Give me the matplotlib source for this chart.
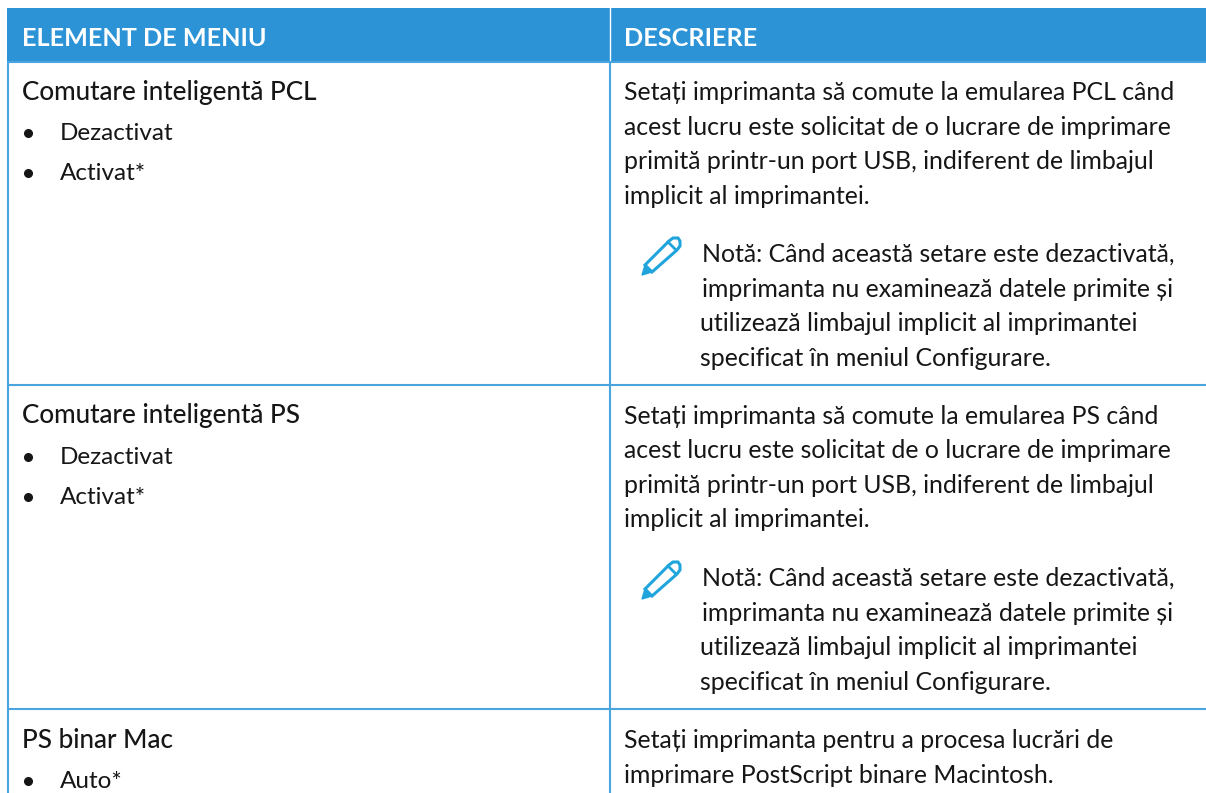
import matplotlib
matplotlib.use("Agg")
import matplotlib.pyplot as plt
from matplotlib.patches import Polygon, Rectangle

W, H = 1206, 793
FONT = ["Lato", "Noto Sans", "DejaVu Sans"]
HEADER_BLUE = "#2b93d6"
LINE_BLUE = "#4aa5de"
PEN_BLUE = "#1fa5dc"
INK = "#161616"

headers = ["ELEMENT DE MENIU", "DESCRIERE"]
row_titles = ["Comutare inteligentă PCL", "Comutare inteligentă PS", "PS binar Mac"]
row_options = [["Dezactivat", "Activat*"], ["Dezactivat", "Activat*"], ["Auto*"]]
row_desc = [
    ["Setați imprimanta să comute la emularea PCL când",
     "acest lucru este solicitat de o lucrare de imprimare",
     "primită printr-un port USB, indiferent de limbajul",
     "implicit al imprimantei."],
    ["Setați imprimanta să comute la emularea PS când",
     "acest lucru este solicitat de o lucrare de imprimare",
     "primită printr-un port USB, indiferent de limbajul",
     "implicit al imprimantei."],
    ["Setați imprimanta pentru a procesa lucrări de",
     "imprimare PostScript binare Macintosh."],
]
note_lines = ["Notă: Când această setare este dezactivată,",
              "imprimanta nu examinează datele primite și",
              "utilizează limbajul implicit al imprimantei",
              "specificat în meniul Configurare."]

fig = plt.figure(figsize=(W / 100, H / 100), dpi=100)
ax = fig.add_axes([0, 0, 1, 1])
ax.set_xlim(0, W)
ax.set_ylim(H, 0)
ax.axis("off")


def put(x, y, s, size=17.9, color=INK, weight="normal"):
    ax.text(x, y, s, fontsize=size, color=color, fontweight=weight,
            family=FONT, va="baseline", ha="left")


def draw_pen(x, y):
    # pencil icon, x/y is the lower left tip
    ax.add_patch(Polygon([(x, y), (x + 3, y - 10), (x + 10, y - 3)], fc=PEN_BLUE, ec=PEN_BLUE, lw=1))
    body = [(x + 3, y - 10), (x + 27, y - 34), (x + 31, y - 37), (x + 36, y - 37),
            (x + 38, y - 34), (x + 38, y - 29), (x + 35, y - 25), (x + 10, y - 3)]
    ax.add_patch(Polygon(body, fill=False, ec=PEN_BLUE, lw=2.2))
    ax.plot([x + 26, x + 34], [y - 33, y - 25], color=PEN_BLUE, lw=2)


# header band
ax.add_patch(Rectangle((7, 8), W - 7, 53, fc=HEADER_BLUE, ec="none"))
ax.plot([610, 610], [8, 61], color="white", lw=1)
put(22, 46.5, headers[0], size=18.2, color="white", weight="bold")
put(624, 46.5, headers[1], size=18.2, color="white", weight="bold")

# grid lines
for y in [61.5, 384.5, 709]:
    ax.plot([7, W], [y, y], color=LINE_BLUE, lw=1.5, solid_capstyle="butt")
ax.plot([8, 8], [61, H], color=LINE_BLUE, lw=1.5, solid_capstyle="butt")
ax.plot([610, 610], [61, H], color=LINE_BLUE, lw=1.5, solid_capstyle="butt")

row_tops = [100, 423.5, 748]
for top, title, opts, desc in zip(row_tops, row_titles, row_options, row_desc):
    put(22, top, title, size=18.8, weight="medium")
    for i, opt in enumerate(opts):
        y = top + 40 * (i + 1)
        ax.plot([28], [y - 7], "o", color=INK, ms=5.5)
        put(60, y, opt, size=17.5)
    for i, line in enumerate(desc):
        put(624, top + 34.6 * i, line)

for top in [262, 586]:
    draw_pen(642, top + 13)
    for i, line in enumerate(note_lines):
        put(702 if i < 2 else 700.5, top + 34.6 * i, line)

fig.savefig("out.png", dpi=100)
